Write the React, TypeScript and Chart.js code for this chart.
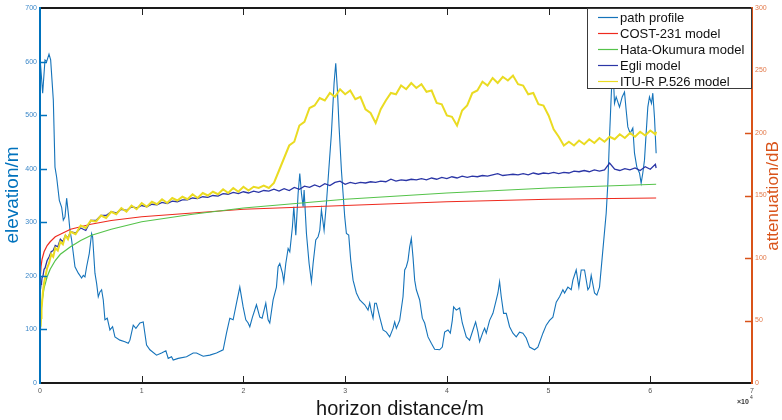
import React, { useEffect, useRef } from "react";
import { Chart, registerables } from "chart.js";

Chart.register(...registerables);

// ---------- data ----------
// terrain profile (distance m, elevation m) – left axis
const PROFILE_DIST = [
  0, 262, 491, 655, 884, 1048, 1310, 1473, 1637, 1899,
  2128, 2292, 2456, 2619, 2783, 2947, 3110, 3438, 3765, 4093,
  4256, 4420, 4584, 4846, 5075, 5173, 5402, 5566, 5730, 5893,
  6057, 6221, 6384, 6614, 6875, 7137, 7367, 7858, 8349, 8676,
  8840, 9167, 9429, 9822, 10149, 10477, 10804, 11459, 11950, 12376,
  12605, 12932, 13096, 13587, 14406, 15060, 15388, 16043, 16697, 17352,
  18007, 18334, 18662, 18989, 19317, 19644, 19971, 20233, 20463, 20626,
  20888, 21281, 21608, 21838, 22198, 22427, 22591, 22918, 23245, 23409,
  23576, 23838, 23969, 24165, 24395, 24558, 24820, 24951, 25148, 25377,
  25540, 25704, 25868, 25966, 26195, 26457, 26686, 26850, 27112, 27341,
  27505, 27669, 27930, 28160, 28389, 28651, 28913, 29076, 29240, 29404,
  29633, 29960, 30124, 30353, 30550, 30779, 31106, 31434, 31925, 32252,
  32416, 32580, 32743, 32907, 33071, 33398, 33725, 34053, 34380, 34708,
  34871, 35035, 35362, 35690, 35854, 36017, 36181, 36345, 36508, 36672,
  36836, 36999, 37327, 37589, 37818, 38145, 38473, 38800, 39291, 39553,
  39782, 40110, 40339, 40535, 40666, 40928, 41256, 41518, 41910, 42238,
  42565, 42827, 43056, 43220, 43547, 43711, 43875, 44202, 44530, 44857,
  45021, 45184, 45348, 45577, 45839, 46167, 46494, 46821, 47149, 47476,
  47804, 48131, 48622, 48950, 49443, 49771, 50098, 50426, 50753, 51080,
  51408, 51572, 51899, 52226, 52390, 52717, 52979, 53209, 53536, 53863,
  54027, 54191, 54518, 54747, 55009, 55337, 55664, 55828, 55991, 56155,
  56253, 56384, 56482, 56646, 56974, 57236, 57465, 57629, 57792, 58021,
  58283, 58447, 58676, 58938, 59102, 59265, 59429, 59593, 59757, 59920,
  60117, 60248, 60412, 60575,
];
const PROFILE_ELEV = [
  608, 541, 603, 600, 614, 603, 528, 403, 384, 341,
  328, 304, 310, 345, 317, 285, 267, 217, 205, 196,
  201, 198, 217, 242, 279, 273, 205, 186, 161, 170,
  174, 155, 118, 121, 99, 105, 86, 80, 77, 74,
  80, 108, 102, 112, 114, 71, 62, 52, 56, 60,
  46, 49, 43, 46, 49, 56, 56, 50, 52, 56,
  62, 93, 121, 118, 149, 179, 142, 118, 112, 105,
  123, 146, 123, 121, 149, 118, 112, 155, 179, 217,
  223, 205, 189, 223, 251, 245, 292, 329, 276, 354,
  391, 354, 329, 360, 279, 223, 189, 223, 267, 273,
  285, 323, 285, 336, 397, 466, 560, 597, 547, 478,
  397, 310, 279, 276, 229, 192, 168, 155, 146, 136,
  149, 133, 121, 149, 149, 123, 99, 95, 86, 102,
  114, 102, 117, 161, 211, 217, 229, 254, 270, 235,
  192, 174, 155, 121, 112, 86, 74, 63, 62, 67,
  95, 99, 93, 117, 142, 136, 140, 112, 86, 80,
  99, 114, 95, 77, 95, 102, 93, 117, 130, 155,
  168, 189, 161, 130, 130, 105, 93, 86, 95, 93,
  84, 67, 62, 67, 93, 108, 117, 123, 151, 161,
  174, 168, 179, 174, 192, 211, 179, 211, 211, 174,
  179, 201, 168, 164, 179, 248, 317, 373, 459, 534,
  575, 565, 522, 534, 515, 534, 543, 509, 478, 466,
  476, 429, 403, 392, 373, 392, 416, 466, 515, 534,
  522, 541, 496, 429,
];

// smooth model curves (distance m, attenuation dB) – right axis
const MODEL_DIST = [
  50, 100, 200, 400, 700, 1000, 1500, 2000, 3000, 4000,
  5000, 7000, 10000, 15000, 20000, 30000, 40000, 50000, 60575,
];
const COST231_DB = [
  87, 93, 99, 105, 110, 113, 117, 119, 123, 125,
  127, 130, 133, 136, 139, 142, 145, 147, 148,
];
const HATA_DB = [
  43, 54, 65, 76, 85, 91, 98, 103, 109, 114,
  118, 123, 129, 135, 140, 147, 152, 156, 159,
];

// noisy model curves (distance m, attenuation dB) – right axis
const NOISY_DIST = [
  50, 100, 150, 200, 300, 400, 500, 700, 900, 1100,
  1300, 1500, 1750, 2000, 2250, 2500, 2750, 3000, 3500, 4000,
  4500, 5000, 5500, 6000, 6500, 7000, 7500, 8000, 8500, 9000,
  9500, 10000, 10500, 11000, 11500, 12000, 12500, 13000, 13500, 14000,
  14500, 15000, 15500, 16000, 16500, 17000, 17500, 18000, 18500, 19000,
  19500, 20000, 20500, 21000, 21500, 22000, 22500, 23000, 23500, 24000,
  24500, 25000, 25500, 26000, 26500, 27000, 27500, 28000, 28500, 29000,
  29500, 30000, 30500, 31000, 31500, 32000, 32500, 33000, 33500, 34000,
  34500, 35000, 35500, 36000, 36500, 37000, 37500, 38000, 38500, 39000,
  39500, 40000, 40500, 41000, 41500, 42000, 42500, 43000, 43500, 44000,
  44500, 45000, 45500, 46000, 46500, 47000, 47500, 48000, 48500, 49000,
  49500, 50000, 50500, 51000, 51500, 52000, 52500, 53000, 53500, 54000,
  54500, 55000, 55500, 56000, 56500, 57000, 57500, 58000, 58500, 59000,
  59500, 60000, 60500, 60575,
];
const EGLI_DB = [
  75, 79, 80, 84, 86, 91, 92, 98, 101, 105,
  106, 110, 109, 115, 113, 118, 116, 121, 120, 124,
  122, 130, 130, 134, 134, 137, 136, 139, 138, 141,
  140, 142, 141, 143, 142.5, 144.5, 143.5, 145.5, 145, 146.5,
  146.5, 148, 147.5, 149, 148.5, 150, 149.5, 151.5, 151, 152.5,
  151.5, 153, 152, 153.5, 152.5, 154, 153.5, 155, 153.5, 155.5,
  154, 156.5, 155, 157.5, 156.5, 158.5, 157, 159.5, 158, 160.5,
  161.5, 159, 160.5, 159.5, 160.5, 160, 161, 160.5, 161.5, 161,
  163, 161.5, 162.5, 162, 163, 162.5, 163.5, 162.5, 164, 163,
  164.5, 163.5, 165, 164, 165.5, 164.5, 165.5, 165, 166, 165.5,
  166.5, 167.5, 166, 166.5, 167, 166.5, 167.5, 166.5, 168, 167,
  168, 167.5, 168.5, 167.5, 168.5, 168, 169.5, 169, 170, 169,
  170.5, 169.5, 170.5, 176, 171, 170, 171.5, 170.5, 172, 170,
  173, 171, 175, 172,
];
const ITU526_DB = [
  45, 52, 60, 64, 74, 80, 84, 92, 96, 103,
  101, 108, 106, 113, 111, 118, 115, 121, 119, 126,
  124, 130, 129, 134, 132, 137, 135, 140, 137, 142,
  139, 144, 141, 145, 143, 147, 144, 148, 146, 149,
  147, 151, 148, 152, 150, 153, 151, 155, 152, 156,
  153, 157, 154, 157, 156, 158, 156, 160, 170, 180,
  190, 193, 206, 209, 220, 222, 228, 226, 232, 229,
  235, 231, 234, 227, 229, 219, 216, 208, 219, 226,
  232, 231, 238, 235, 240, 236, 239, 233, 234, 224,
  223, 214, 213, 206, 218, 222, 232, 234, 241, 238,
  244, 240, 245, 242, 246, 239, 238, 231, 232, 223,
  222, 214, 203, 197, 190, 193, 190, 194, 191, 195,
  192, 196, 193, 197, 195, 199, 196, 200, 197, 201,
  198, 202, 199, 201,
];

const SERIES_LABELS = [
  "path profile",
  "COST-231 model",
  "Hata-Okumura model",
  "Egli model",
  "ITU-R P.526 model",
];
const SERIES_COLORS = ["#1573BA", "#EE2A1E", "#55C34A", "#2B36A6", "#EADB22"];

const X_TITLE = "horizon distance/m";
const Y_TITLE = "elevation/m";
const Y2_TITLE = "attenuation/dB";

const LEFT_COLOR = "#0072BD";
const RIGHT_COLOR = "#D95319";
const FONT = "'Liberation Sans', Arial, Helvetica, sans-serif";

const toXY = (xs: number[], ys: number[]) => xs.map((x, i) => ({ x, y: ys[i] }));

const decorPlugin = {
  id: "matlabDecor",
  afterDatasetsDraw(chart: any) {
    const { ctx, chartArea, scales } = chart;
    const { left, right, top, bottom } = chartArea;
    ctx.save();

    // inward tick marks
    const tl = 7;
    ctx.lineWidth = 1;
    ctx.strokeStyle = "#222";
    const xt = scales.x.ticks;
    xt.forEach((t: any, i: number) => {
      if (i === 0 || i === xt.length - 1) return;
      const px = Math.round(scales.x.getPixelForValue(t.value)) + 0.5;
      ctx.beginPath();
      ctx.moveTo(px, bottom);
      ctx.lineTo(px, bottom - tl);
      ctx.moveTo(px, top);
      ctx.lineTo(px, top + tl);
      ctx.stroke();
    });
    ctx.strokeStyle = LEFT_COLOR;
    ctx.lineWidth = 1.5;
    const yt = scales.y.ticks;
    yt.forEach((t: any, i: number) => {
      if (i === 0 || i === yt.length - 1) return;
      const py = Math.round(scales.y.getPixelForValue(t.value)) + 0.5;
      ctx.beginPath();
      ctx.moveTo(left, py);
      ctx.lineTo(left + tl, py);
      ctx.stroke();
    });
    ctx.strokeStyle = RIGHT_COLOR;
    const y2t = scales.y2.ticks;
    y2t.forEach((t: any, i: number) => {
      if (i === 0 || i === y2t.length - 1) return;
      const py = Math.round(scales.y2.getPixelForValue(t.value)) + 0.5;
      ctx.beginPath();
      ctx.moveTo(right, py);
      ctx.lineTo(right - tl, py);
      ctx.stroke();
    });

    // box
    ctx.lineWidth = 2;
    ctx.strokeStyle = "#1a1a1a";
    ctx.beginPath();
    ctx.moveTo(left, top);
    ctx.lineTo(right, top);
    ctx.moveTo(left, bottom);
    ctx.lineTo(right, bottom);
    ctx.stroke();
    ctx.strokeStyle = LEFT_COLOR;
    ctx.beginPath();
    ctx.moveTo(left, top - 1);
    ctx.lineTo(left, bottom + 1);
    ctx.stroke();
    ctx.strokeStyle = RIGHT_COLOR;
    ctx.beginPath();
    ctx.moveTo(right, top - 1);
    ctx.lineTo(right, bottom + 1);
    ctx.stroke();

    // legend
    const lx = 587, ly = top, lw = right - 587, lh = 89 - top;
    ctx.fillStyle = "#fff";
    ctx.fillRect(lx, ly, lw, lh);
    ctx.lineWidth = 1;
    ctx.strokeStyle = "#3a3a3a";
    ctx.strokeRect(lx + 0.5, ly + 0.5, lw - 1, lh - 1);
    ctx.font = `13px ${FONT}`;
    ctx.textAlign = "left";
    ctx.textBaseline = "middle";
    SERIES_LABELS.forEach((lab, i) => {
      const yy = 17 + i * 16;
      ctx.strokeStyle = SERIES_COLORS[i];
      ctx.lineWidth = 1.2;
      ctx.beginPath();
      ctx.moveTo(598, yy + 0.5);
      ctx.lineTo(618, yy + 0.5);
      ctx.stroke();
      ctx.fillStyle = "#111";
      ctx.fillText(lab, 620, yy + 1);
    });

    // axis titles
    ctx.textAlign = "center";
    ctx.textBaseline = "middle";
    ctx.save();
    ctx.translate(13, 195);
    ctx.rotate(-Math.PI / 2);
    ctx.fillStyle = LEFT_COLOR;
    ctx.font = `19px ${FONT}`;
    ctx.fillText(Y_TITLE, 0, 0);
    ctx.restore();

    ctx.save();
    ctx.translate(773, 196);
    ctx.rotate(-Math.PI / 2);
    ctx.fillStyle = RIGHT_COLOR;
    ctx.font = `17px ${FONT}`;
    ctx.fillText(Y2_TITLE, 0, 0);
    ctx.restore();

    ctx.fillStyle = "#151515";
    ctx.font = `20px ${FONT}`;
    ctx.textBaseline = "alphabetic";
    ctx.fillText(X_TITLE, 400, 415);

    // exponent marker
    ctx.textAlign = "left";
    ctx.font = `bold 7px ${FONT}`;
    ctx.fillStyle = "#333";
    ctx.fillText("\u00d710", 737, 404);
    ctx.font = `5px ${FONT}`;
    ctx.fillText("4", 750, 399);

    ctx.restore();
  },
};

export default function App() {
  const ref = useRef<HTMLCanvasElement>(null);

  useEffect(() => {
    const canvas = ref.current;
    if (!canvas) return;
    Chart.defaults.font.family = FONT;
    const mk = (i: number, data: any[], axis: string, order: number, width = 1.2) => ({
      label: SERIES_LABELS[i],
      data,
      yAxisID: axis,
      borderColor: SERIES_COLORS[i],
      backgroundColor: SERIES_COLORS[i],
      borderWidth: width,
      pointRadius: 0,
      tension: 0,
      fill: false,
      order,
    });
    const chart = new Chart(canvas, {
      type: "line",
      data: {
        datasets: [
          mk(0, toXY(PROFILE_DIST, PROFILE_ELEV), "y", 5, 1.1),
          mk(1, toXY(MODEL_DIST, COST231_DB), "y2", 4),
          mk(2, toXY(MODEL_DIST, HATA_DB), "y2", 3),
          mk(3, toXY(NOISY_DIST, EGLI_DB), "y2", 2, 1.3),
          mk(4, toXY(NOISY_DIST, ITU526_DB), "y2", 1, 2),
        ],
      },
      options: {
        animation: false,
        responsive: false,
        maintainAspectRatio: false,
        events: [],
        layout: { padding: { top: 8, left: 0, right: 0, bottom: 0 } },
        plugins: { legend: { display: false }, tooltip: { enabled: false }, title: { display: false } },
        scales: {
          x: {
            type: "linear",
            position: "bottom",
            min: 0,
            max: 70000,
            grid: { display: false, drawTicks: false },
            border: { display: false },
            ticks: {
              stepSize: 10000,
              autoSkip: false,
              maxRotation: 0,
              padding: 4,
              color: "#555",
              font: { size: 7 },
              callback: (v: any) => String(Number(v) / 10000),
            },
            afterFit: (s: any) => {
              s.height = 37;
            },
          },
          y: {
            type: "linear",
            position: "left",
            min: 0,
            max: 700,
            grid: { display: false, drawTicks: false },
            border: { display: false },
            ticks: { stepSize: 100, padding: 3, color: "#3b87c8", font: { size: 7 } },
            afterFit: (s: any) => {
              s.width = 40;
            },
          },
          y2: {
            type: "linear",
            position: "right",
            min: 0,
            max: 300,
            grid: { display: false, drawTicks: false },
            border: { display: false },
            ticks: { stepSize: 50, padding: 3, color: "#e3794a", font: { size: 7 } },
            afterFit: (s: any) => {
              s.width = 30;
            },
          },
        },
      } as any,
      plugins: [decorPlugin],
    });
    return () => chart.destroy();
  }, []);

  return (
    <div style={{ position: "fixed", left: 0, top: 0, width: 782, height: 420, background: "#fff" }}>
      <canvas ref={ref} width={782} height={420} style={{ width: 782, height: 420, display: "block" }} />
    </div>
  );
}
